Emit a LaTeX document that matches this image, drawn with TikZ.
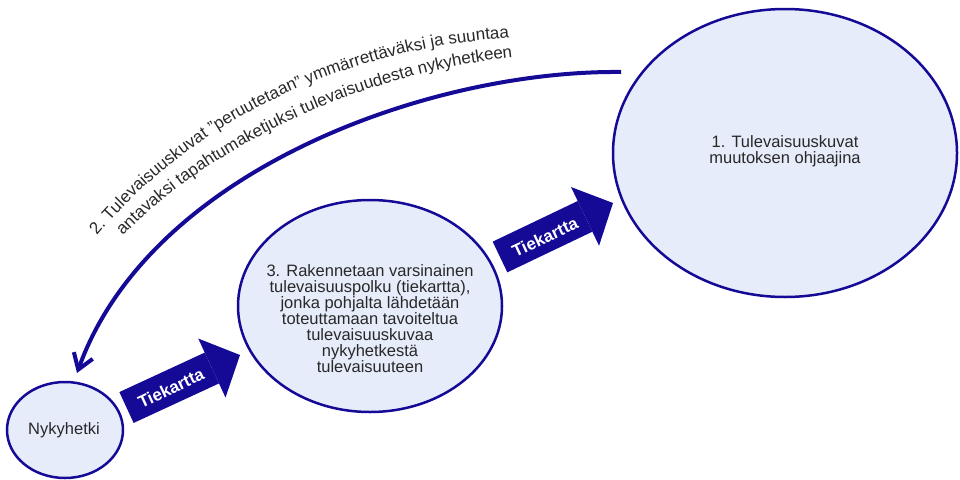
\documentclass[tikz,border=0pt]{standalone}
\usepackage{fontspec}
\setmainfont{Liberation Sans}
\usetikzlibrary{shapes.geometric,arrows.meta,decorations.text}

\definecolor{ringblue}{RGB}{20,10,150}
\definecolor{ringfill}{RGB}{230,236,250}
\definecolor{inkgray}{RGB}{40,40,40}

\tikzset{
  stage/.style={ellipse, draw=ringblue, fill=ringfill, line width=2.5pt, inner sep=0pt},
  stagetext/.style={text=inkgray, font=\fontsize{16.5}{16}\selectfont, align=center, inner sep=0pt},
  roadmap/.style={draw=ringblue, line width=34pt,
    -{Triangle[length=31pt,width=65pt,line width=0pt]}},
  roadtext/.style={text=white, font=\bfseries\fontsize{17}{17}\selectfont, rotate=25, inner sep=0pt},
  loopback/.style={draw=ringblue, line width=4pt,
    -{Straight Barb[length=15pt,width=20pt]}},
  curvetext/.style={decorate, decoration={text along path, text align=left, text={#1}}},
}

\begin{document}
\begin{tikzpicture}[x=1pt, y=-1pt]
  \useasboundingbox (0,0) rectangle (960,479);

  % stages
  \node[stage, minimum width=344pt, minimum height=288pt] (vision) at (785,153) {};
  \node[stage, minimum width=264pt, minimum height=212pt] (route) at (370,306) {};
  \node[stage, minimum width=116pt, minimum height=96pt] (now) at (65,430) {};

  \node[stagetext] (visiontext) at (785,151) {1. Tulevaisuuskuvat\\muutoksen ohjaajina};
  \node[stagetext] (routetext) at (370,319) {3. Rakennetaan varsinainen\\tulevaisuuspolku (tiekartta),\\jonka pohjalta lähdetään\\toteuttamaan tavoiteltua\\tulevaisuuskuvaa\\nykyhetkestä\\tulevaisuuteen};
  \node[stagetext] (nowtext) at (64,430) {Nykyhetki};

  % road map arrows
  \coordinate (r1tail) at (126.5,407.5);
  \coordinate (r1tip) at (240,355);
  \draw[roadmap] (r1tail) -- (r1tip);
  \node[roadtext] (r1text) at (171,388) {Tiekartta};

  \coordinate (r2tail) at (500,257);
  \coordinate (r2tip) at (613,203);
  \draw[roadmap] (r2tail) -- (r2tip);
  \node[roadtext] (r2text) at (545,237) {Tiekartta};

  % backcasting loop from the vision to the present
  \coordinate (loopstart) at (621,72);
  \coordinate (loopend) at (77,373);
  \draw[loopback] (loopstart) .. controls (430,70) and (150,170) .. (loopend);

  % curved caption of the loop
  \path[curvetext={|\fontsize{17}{17}\selectfont\color{inkgray}|2. Tulevaisuuskuvat ”peruutetaan” ymmärrettäväksi ja suuntaa}]
    (97,236) .. controls (160,160) and (290,55) .. (505,38) -- (640,27);
  \path[curvetext={|\fontsize{17}{17}\selectfont\color{inkgray}|antavaksi tapahtumaketjuksi tulevaisuudesta nykyhetkeen}]
    (123,236) .. controls (180,175) and (320,80) .. (507,58) -- (640,43);
\end{tikzpicture}
\end{document}
